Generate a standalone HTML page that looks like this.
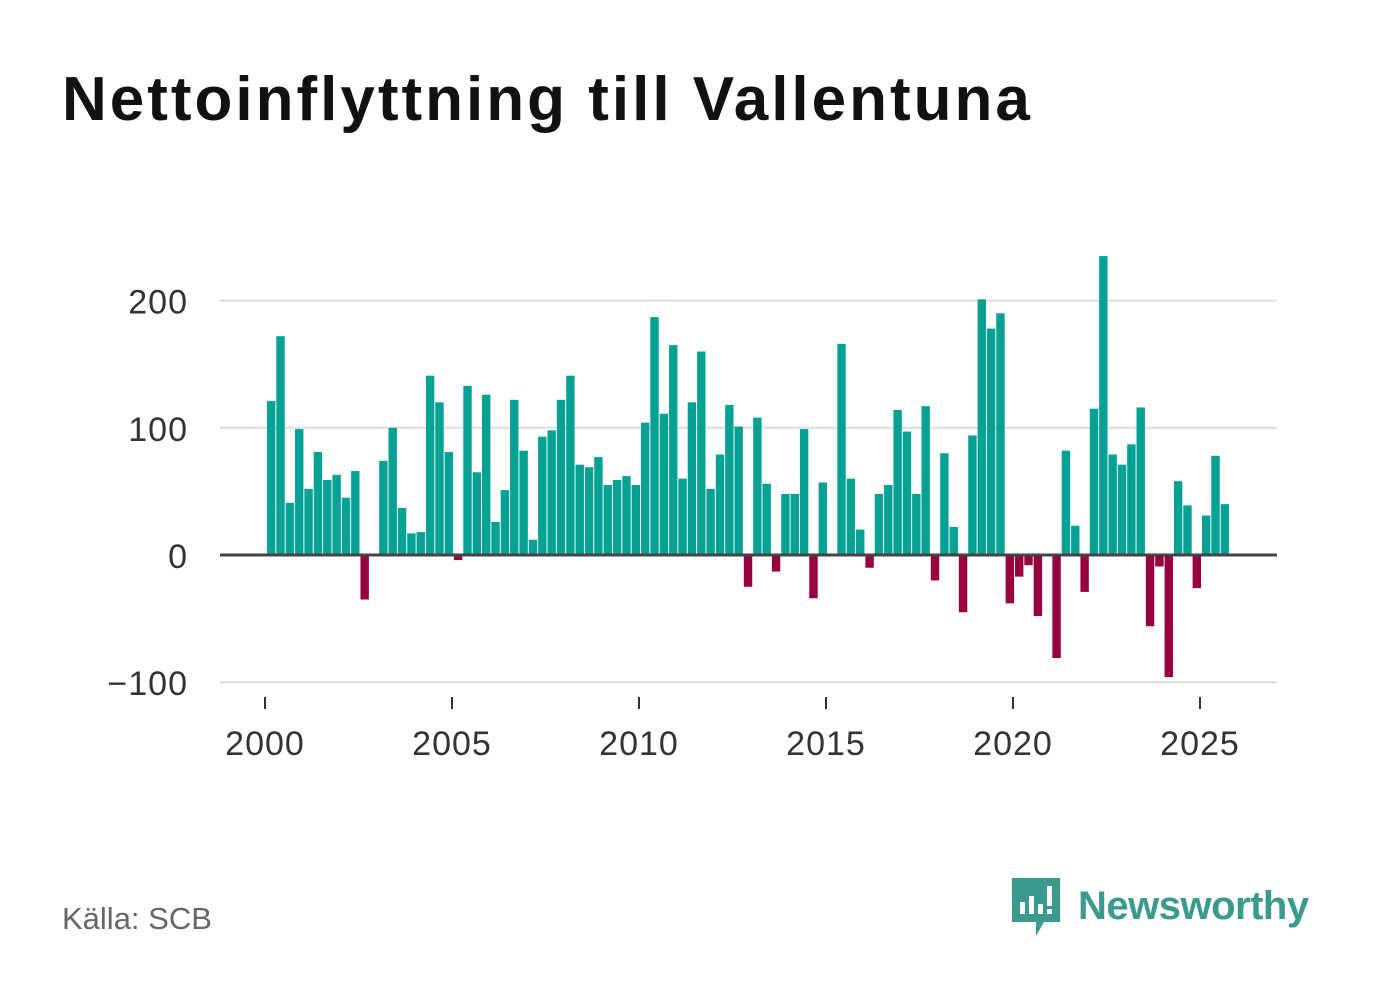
<!DOCTYPE html>
<html><head><meta charset="utf-8">
<style>
body{margin:0;background:#fff;width:1382px;height:999px;overflow:hidden;font-family:"Liberation Sans",sans-serif;}
#title{position:absolute;left:62px;top:64px;font-size:62px;font-weight:bold;color:#111;margin:0;letter-spacing:3px}
#source{position:absolute;left:62px;top:901px;font-size:31px;color:#666}
#logo{position:absolute;left:1010px;top:874px;display:flex;align-items:center}
</style></head><body>
<h1 id="title">Nettoinflyttning till Vallentuna</h1>
<svg id="chart" width="1382" height="999" style="position:absolute;left:0;top:0"></svg>
<div id="source">Källa: SCB</div>
<div id="logo">
<svg width="52" height="64"><path d="M2 4 H50 V48 H34 L26 62 L26 48 H2 Z" fill="#3a9a8e"/><rect x="10" y="28" width="5" height="12" fill="#fff"/><rect x="19" y="22" width="5" height="18" fill="#fff"/><rect x="28" y="30" width="5" height="10" fill="#fff"/><rect x="37" y="12" width="5" height="20" fill="#fff"/><rect x="37" y="35" width="5" height="5" fill="#fff"/></svg>
<span style="font-size:40px;font-weight:bold;color:#3a9a8e;margin-left:16px;letter-spacing:-0.5px">Newsworthy</span>
</div>
<script>
const categories = [];
for (let yr = 2000; yr <= 2025; yr++) for (let q = 1; q <= 4; q++) categories.push(yr + " Q" + q);
const values = [121,172,41,99,52,81,59,63,45,66,-35,0,74,100,37,17,18,141,120,81,-4,133,65,126,26,51,122,82,12,93,98,122,141,71,69,77,55,59,62,55,104,187,111,165,60,120,160,52,79,118,101,-25,108,56,-13,48,48,99,-34,57,0,166,60,20,-10,48,55,114,97,48,117,-20,80,22,-45,94,201,178,190,-38,-17,-8,-48,0,-81,82,23,-29,115,235,79,71,87,116,-56,-9,-96,58,39,-26,31,78,40];
const yTicks = [-100,0,100,200];
const xTicks = [2000,2005,2010,2015,2020,2025];
const NS = "http://www.w3.org/2000/svg";
const svg = document.getElementById("chart");
function x(yearFrac){ return 265 + (yearFrac - 2000) * 37.4; }
function y(v){ return 555 - v * 1.272; }
function el(t, a){ const e = document.createElementNS(NS, t); for (const k in a) e.setAttribute(k, a[k]); svg.appendChild(e); return e; }
yTicks.forEach(t => {
  if (t !== 0) {
    const g = el("line", {x1:220, x2:1277, y1:y(t), y2:y(t), stroke:"#ddd", "stroke-width":2});
    
    
  }
  const l = el("text", {x:188, y:y(t)+13, "text-anchor":"end", "font-size":34, "letter-spacing":1, fill:"#333", "font-family":"Liberation Sans, sans-serif"});
  l.textContent = t < 0 ? "\u2212" + Math.abs(t) : t;
  
  
});
values.forEach((v, i) => {
  const cx = x(2000 + (i + 0.5) / 4) + 1.5;
  const r = el("rect", {x:cx-4.2, y:Math.min(y(v), y(0)), width:8.4, height:Math.abs(y(v)-y(0)), fill: v >= 0 ? "#05a195" : "#98003f"});
  
  
});
const z = el("line", {x1:220, x2:1277, y1:y(0), y2:y(0), stroke:"#444", "stroke-width":3});


xTicks.forEach(t => {
  const tk = el("line", {x1:x(t), x2:x(t), y1:697, y2:709, stroke:"#333", "stroke-width":2});
  
  
  const l = el("text", {x:x(t), y:755, "text-anchor":"middle", "font-size":34, "letter-spacing":1, fill:"#333", "font-family":"Liberation Sans, sans-serif"});
  l.textContent = t;
  
  
});
</script>
</body></html>
